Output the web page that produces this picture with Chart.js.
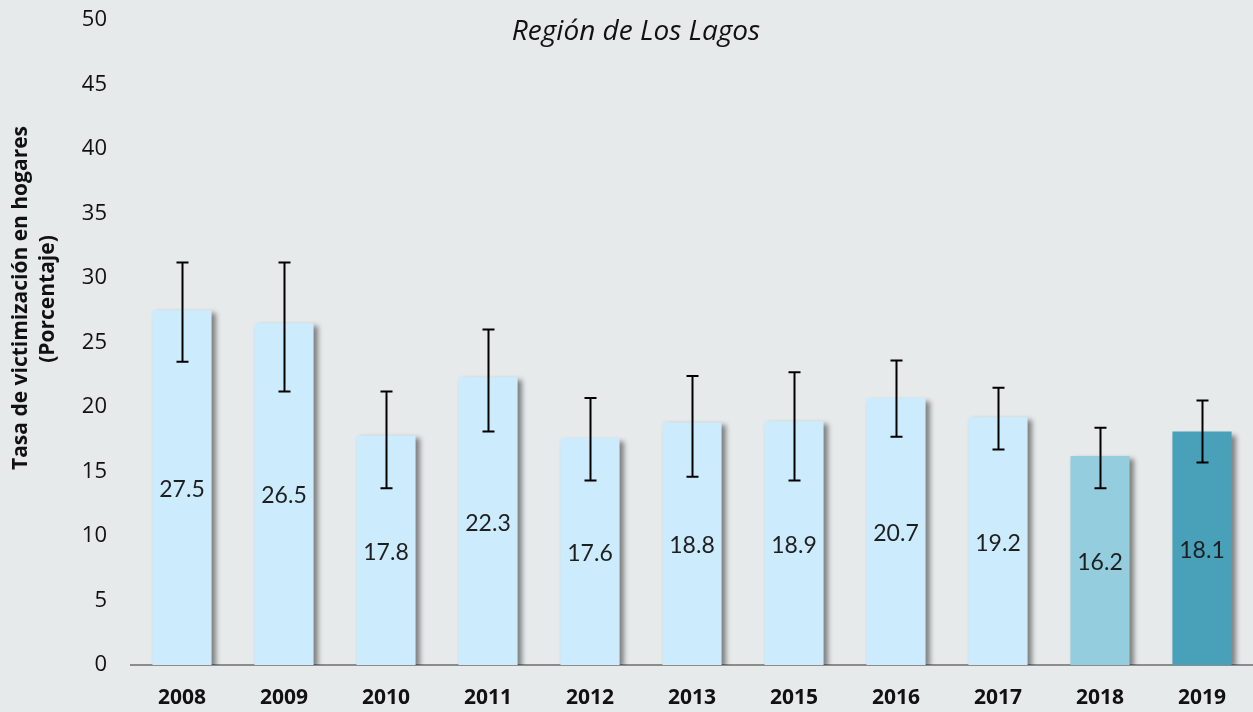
<!DOCTYPE html>
<html>
<head>
<meta charset="utf-8">
<script src="https://cdn.jsdelivr.net/npm/chart.js@4"></script>
<style>
html,body{margin:0;padding:0;background:#E7EAEB;}
#wrap{width:1253px;height:712px;position:relative;}
</style>
</head>
<body>
<div id="wrap"><canvas id="c" width="1253" height="712"></canvas></div>
<script>
const categories = ['2008','2009','2010','2011','2012','2013','2015','2016','2017','2018','2019'];
const values = [27.5, 26.5, 17.8, 22.3, 17.6, 18.8, 18.9, 20.7, 19.2, 16.2, 18.1];
const errLow = [23.5, 21.2, 13.7, 18.1, 14.3, 14.6, 14.3, 17.7, 16.7, 13.7, 15.7];
const errHigh = [31.2, 31.2, 21.2, 26.0, 20.7, 22.4, 22.7, 23.6, 21.5, 18.4, 20.5];
const barColors = ['#CCEBFC','#CCEBFC','#CCEBFC','#CCEBFC','#CCEBFC','#CCEBFC','#CCEBFC','#CCEBFC','#CCEBFC','#93CDDE','#48A1B8'];
const yTicks = [0,5,10,15,20,25,30,35,40,45,50];
const titleText = 'Región de Los Lagos';
const yTitle = ['Tasa de victimización en hogares','(Porcentaje)'];

const shadowPlugin = {
  id:'shadow',
  beforeDatasetDraw(chart){
    const ctx=chart.ctx; ctx.save();
    ctx.shadowColor='rgba(0,0,0,0.45)';
    ctx.shadowOffsetX=4; ctx.shadowOffsetY=3; ctx.shadowBlur=5;
  },
  afterDatasetDraw(chart){ chart.ctx.restore(); }
};

const overlayPlugin = {
  id:'overlay',
  afterDatasetsDraw(chart){
    const ctx=chart.ctx, x=chart.scales.x, y=chart.scales.y;
    const meta=chart.getDatasetMeta(0);
    ctx.save();
    ctx.font='23px Lato';
    ctx.fillStyle='#1E1E1E';
    ctx.textAlign='center'; ctx.textBaseline='middle';
    meta.data.forEach((bar,i)=>{
      const yc=(y.getPixelForValue(values[i])+y.getPixelForValue(0))/2;
      ctx.fillText(values[i].toFixed(1), bar.x, yc+2);
    });
    ctx.strokeStyle='#000'; ctx.lineWidth=2;
    meta.data.forEach((bar,i)=>{
      const yl=y.getPixelForValue(errLow[i]), yh=y.getPixelForValue(errHigh[i]);
      const cx=Math.round(bar.x)+0.5;
      ctx.beginPath();
      ctx.moveTo(cx,yl); ctx.lineTo(cx,yh);
      ctx.moveTo(cx-6,yl); ctx.lineTo(cx+6,yl);
      ctx.moveTo(cx-6,yh); ctx.lineTo(cx+6,yh);
      ctx.stroke();
    });
    ctx.font='italic 28px "Open Sans"';
    ctx.fillStyle='#111';
    ctx.fillText(titleText, 636, 32);
    ctx.font='bold 21px "Open Sans"';
    ctx.fillStyle='#111';
    ctx.save(); ctx.translate(21,298); ctx.rotate(-Math.PI/2); ctx.fillText(yTitle[0],0,0); ctx.restore();
    ctx.save(); ctx.translate(48,299); ctx.rotate(-Math.PI/2); ctx.fillText(yTitle[1],0,0); ctx.restore();
    ctx.restore();
  }
};

new Chart(document.getElementById('c'), {
  type:'bar',
  data:{labels:categories, datasets:[{data:values, backgroundColor:barColors, borderWidth:0, categoryPercentage:0.58, barPercentage:1}]},
  options:{
    responsive:false, animation:false, devicePixelRatio:1,
    layout:{padding:{top:20,right:0,bottom:0,left:0}, autoPadding:false},
    plugins:{legend:{display:false}, tooltip:{enabled:false}},
    scales:{
      x:{
        afterFit(s){ s.height=47; s.paddingLeft=0; s.paddingRight=0; },
        grid:{display:false, drawTicks:false},
        border:{display:true, color:'#8C8C8C', width:2},
        ticks:{color:'#111', font:{family:'"Open Sans"', size:21, weight:'bold'}, padding:20}
      },
      y:{
        min:0, max:50,
        afterBuildTicks(s){ s.ticks = yTicks.map(v=>({value:v})); },
        afterFit(s){ s.width=131; s.paddingTop=0; s.paddingBottom=0; },
        grid:{display:false, drawTicks:false},
        border:{display:false},
        ticks:{color:'#111', font:{family:'"Open Sans"', size:22}, padding:24, stepSize:5}
      }
    }
  },
  plugins:[shadowPlugin, overlayPlugin]
});
</script>
</body>
</html>
